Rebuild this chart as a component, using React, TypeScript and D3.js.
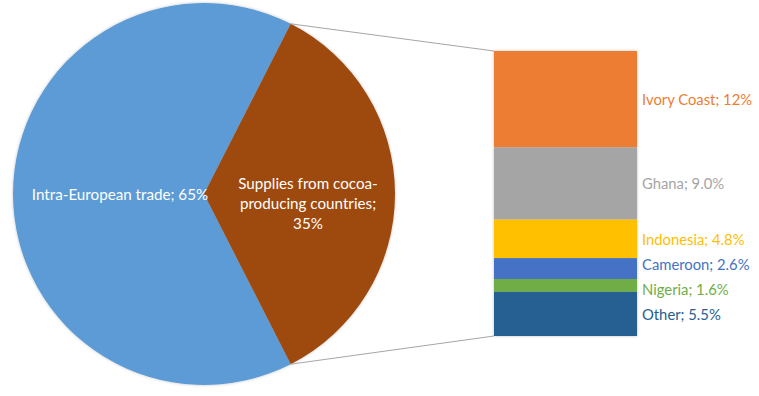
import * as d3 from 'd3';

const pieLabels = ['Intra-European trade; 65%', 'Supplies from cocoa-|producing countries;|35%'];
const pieValues = [65, 35];
const pieColors = ['#5B9BD5', '#9E480E'];

const barNames = ['Ivory Coast', 'Ghana', 'Indonesia', 'Cameroon', 'Nigeria', 'Other'];
const barValues = [12, 9.0, 4.8, 2.6, 1.6, 5.5];
const barTexts = ['12%', '9.0%', '4.8%', '2.6%', '1.6%', '5.5%'];
const barColors = ['#ED7D31', '#A5A5A5', '#FFC000', '#4472C4', '#70AD47', '#255E91'];

const W = 759, H = 396;
const cx = 204, cy = 194, R = 191;
const barX0 = 494, barX1 = 637, barTop = 51, barBottom = 336;

export default function App() {
  const total = d3.sum(barValues);
  // second slice centred on the right (3 o'clock)
  const startAngle = Math.PI / 2 + (pieValues[1] / 100) * Math.PI;
  const pie = d3.pie<number>().sort(null).startAngle(startAngle).endAngle(startAngle + 2 * Math.PI);
  const arcs = pie(pieValues);
  const arc = d3.arc<d3.PieArcDatum<number>>().innerRadius(0).outerRadius(R);

  const y = d3.scaleLinear().domain([0, total]).range([barTop, barBottom]);
  const cum = d3.cumsum(barValues);
  const segs = barValues.map((v, i) => ({ y0: y(cum[i] - v), y1: y(cum[i]) }));

  // label positions, pushed apart where they crowd
  const ly = segs.map(s => (s.y0 + s.y1) / 2);
  const gap = 25;
  for (let it = 0; it < 20; it++) {
    for (let i = 1; i < ly.length; i++) {
      const d = ly[i] - ly[i - 1];
      if (d < gap) { const s = (gap - d) / 2; ly[i - 1] -= s; ly[i] += s; }
    }
  }

  const brown = arcs[1];
  const p0 = [cx + R * Math.sin(brown.startAngle), cy - R * Math.cos(brown.startAngle)];
  const p1 = [cx + R * Math.sin(brown.endAngle), cy - R * Math.cos(brown.endAngle)];

  const font = "Lato, 'Open Sans', sans-serif";
  const fs = 15.2;
  const fsBar = 14.8;

  return (
    <svg width={W} height={H} style={{ position: 'absolute', left: 0, top: 0 }} fontFamily={font}>
      <defs>
        <filter id="sh" x="-10%" y="-10%" width="120%" height="120%">
          <feDropShadow dx="0" dy="0" stdDeviation="1.5" floodColor="#000" floodOpacity="0.25" />
        </filter>
      </defs>
      <rect width={W} height={H} fill="#fff" />
      <g transform={`translate(${cx},${cy})`} filter="url(#sh)">
        {arcs.map((a, i) => <path key={i} d={arc(a)!} fill={pieColors[i]} />)}
      </g>
      <line x1={p0[0]} y1={p0[1]} x2={barX0} y2={barTop} stroke="#A6A6A6" strokeWidth={1} />
      <line x1={p1[0]} y1={p1[1]} x2={barX0} y2={barBottom} stroke="#A6A6A6" strokeWidth={1} />
      <text x={120} y={194} fill="#fff" fontSize={fs} textAnchor="middle" dominantBaseline="central">{pieLabels[0]}</text>
      <text x={308} y={183} fill="#fff" fontSize={fs} textAnchor="middle" dominantBaseline="central">
        {pieLabels[1].split('|').map((t, i) => <tspan key={i} x={308} dy={i === 0 ? 0 : 20}>{t}</tspan>)}
      </text>
      <g filter="url(#sh)">
        {segs.map((s, i) => (
          <rect key={i} x={barX0} y={s.y0} width={barX1 - barX0} height={s.y1 - s.y0} fill={barColors[i]} />
        ))}
      </g>
      {barNames.map((n, i) => (
        <text key={n} x={642} y={ly[i]} fill={barColors[i]} fontSize={fsBar} dominantBaseline="central">{`${n}; ${barTexts[i]}`}</text>
      ))}
    </svg>
  );
}
